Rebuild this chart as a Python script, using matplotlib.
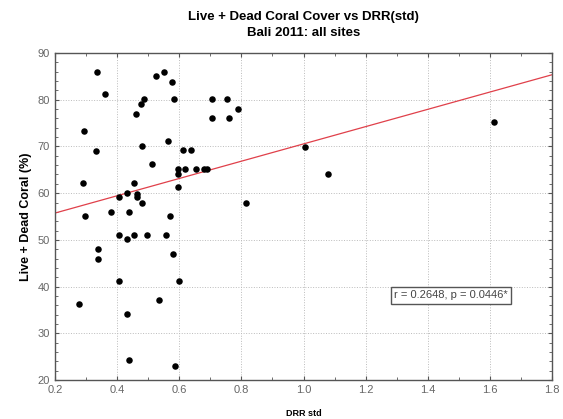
import numpy as np
import matplotlib
matplotlib.use("Agg")
import matplotlib.pyplot as plt
from matplotlib.ticker import MultipleLocator

plt.rcParams["font.family"] = ["Liberation Sans", "DejaVu Sans"]

# DRR std vs live + dead coral cover
drr_std = [0.336, 0.361, 0.294, 0.331, 0.291, 0.296, 0.381, 0.437, 0.405, 0.432,
           0.453, 0.464, 0.463, 0.481, 0.480, 0.513, 0.462, 0.478, 0.485, 0.524,
           0.550, 0.576, 0.584, 0.565, 0.612, 0.638, 0.597, 0.597, 0.618, 0.654,
           0.680, 0.688, 0.597, 0.706, 0.706, 0.753, 0.761, 0.790, 0.570, 0.407,
           0.432, 0.455, 0.495, 0.558, 0.580, 0.338, 0.339, 0.407, 0.599, 0.536,
           0.277, 0.433, 0.437, 0.587, 1.005, 1.078, 0.814, 1.614]
coral_pct = [86.0, 81.2, 73.2, 69.1, 62.1, 55.1, 56.0, 56.0, 59.2, 60.1,
             62.1, 59.9, 59.2, 58.0, 70.0, 66.2, 77.0, 79.0, 80.1, 85.1,
             86.0, 83.9, 80.1, 71.1, 69.2, 69.2, 65.1, 64.2, 65.1, 65.1,
             65.1, 65.1, 61.3, 80.1, 76.1, 80.1, 76.1, 78.1, 55.1, 51.1,
             50.1, 51.1, 51.1, 51.1, 47.0, 48.1, 46.0, 41.1, 41.1, 37.1,
             36.2, 34.1, 24.2, 23.1, 69.9, 64.1, 58.0, 75.2]
stats_label = "r = 0.2648, p = 0.0446*"

x = np.array(drr_std)
y = np.array(coral_pct)

fig = plt.figure(figsize=(5.63, 4.19), dpi=100)
ax = fig.add_axes([0.0977, 0.093, 0.8828, 0.7805])

# linear fit line across full x range
slope, intercept = np.polyfit(x, y, 1)
xl = np.array([0.2, 1.8])
ax.plot(xl, intercept + slope * xl, color="#e0404a", lw=0.9, zorder=2)

ax.scatter(x, y, s=22, color="black", zorder=3, linewidths=0)

ax.set_xlim(0.2, 1.8)
ax.set_ylim(20, 90)
ax.xaxis.set_major_locator(MultipleLocator(0.2))
ax.xaxis.set_minor_locator(MultipleLocator(0.1))
ax.yaxis.set_major_locator(MultipleLocator(10))
ax.yaxis.set_minor_locator(MultipleLocator(2))
ax.tick_params(which="both", direction="in", top=True, right=True,
               colors="#555555", labelcolor="#666666", labelsize=8)
ax.tick_params(which="major", length=3)
ax.tick_params(which="minor", length=2)
ax.grid(True, which="major", linestyle=":", color="#bbbbbb", lw=0.7)
for sp in ax.spines.values():
    sp.set_color("#555555")
    sp.set_linewidth(1.0)

ax.set_title("Live + Dead Coral Cover vs DRR(std)\nBali 2011: all sites",
             fontsize=9.5, fontweight="bold", pad=12, linespacing=1.45)
ax.set_ylabel("Live + Dead Coral (%)", fontsize=9, fontweight="bold")
ax.set_xlabel("DRR std", fontsize=6.5, fontweight="bold", labelpad=10)

ax.text(1.475, 38.1, stats_label, fontsize=8, color="#444444", ha="center", va="center",
        bbox=dict(boxstyle="square,pad=0.3", fc="white", ec="#555555", lw=1.0))

fig.savefig("out.png", dpi=100)
